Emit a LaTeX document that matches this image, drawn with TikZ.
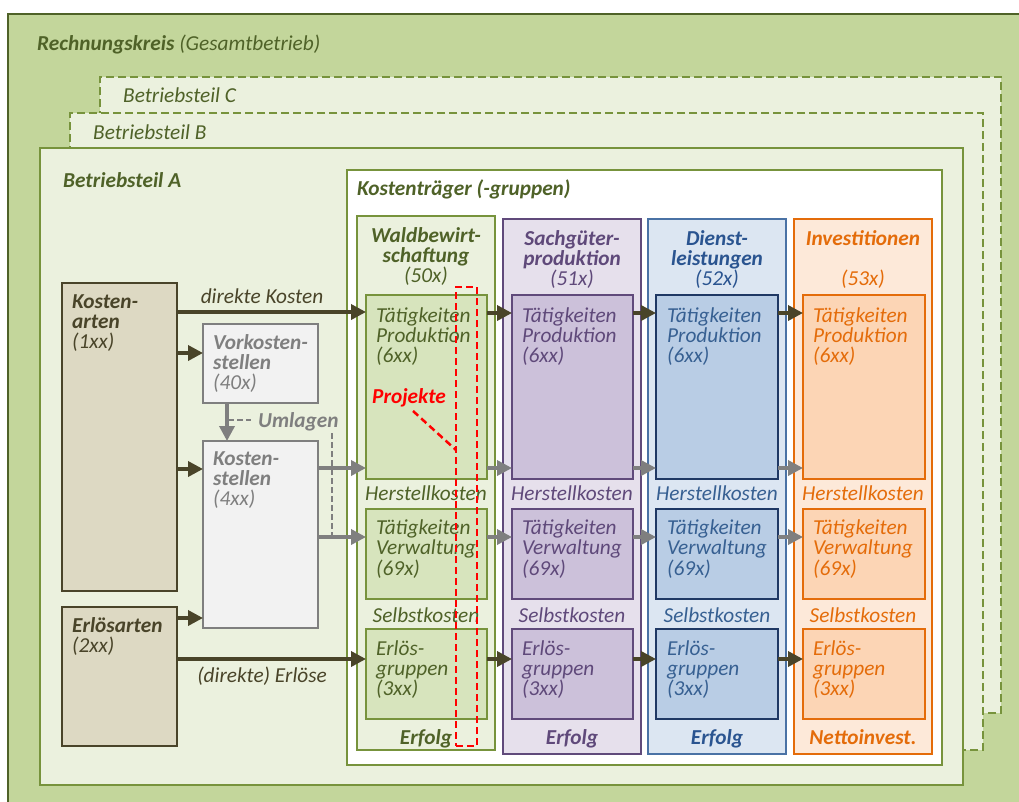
\documentclass[tikz,border=0pt]{standalone}
\usepackage{fontspec}
\setmainfont{Carlito}
\usetikzlibrary{arrows.meta,fit}
\definecolor{cOuter}{HTML}{C3D69B}
\definecolor{cDarkG}{HTML}{4F6228}
\definecolor{cLight}{HTML}{EBF1DE}
\definecolor{cGreen}{HTML}{77933C}
\definecolor{cBrown}{HTML}{494429}
\definecolor{cBrownF}{HTML}{DDD9C3}
\definecolor{cGray}{HTML}{7F7F7F}
\definecolor{cGrayF}{HTML}{F2F2F2}
\definecolor{colfill1}{HTML}{EBF1DE}
\definecolor{coldraw1}{HTML}{77933C}
\definecolor{colin1}{HTML}{D7E4BD}
\definecolor{colindraw1}{HTML}{77933C}
\definecolor{coltext1}{HTML}{4F6228}
\definecolor{colhead1}{HTML}{4F6228}
\definecolor{colfill2}{HTML}{E6E0EC}
\definecolor{coldraw2}{HTML}{604A7B}
\definecolor{colin2}{HTML}{CCC1DA}
\definecolor{colindraw2}{HTML}{604A7B}
\definecolor{coltext2}{HTML}{5F497A}
\definecolor{colhead2}{HTML}{5F497A}
\definecolor{colfill3}{HTML}{DCE6F2}
\definecolor{coldraw3}{HTML}{4A72A5}
\definecolor{colin3}{HTML}{B9CDE5}
\definecolor{colindraw3}{HTML}{1F3864}
\definecolor{coltext3}{HTML}{376092}
\definecolor{colhead3}{HTML}{2A5490}
\definecolor{colfill4}{HTML}{FDE9D9}
\definecolor{coldraw4}{HTML}{E46C0A}
\definecolor{colin4}{HTML}{FCD5B5}
\definecolor{colindraw4}{HTML}{E46C0A}
\definecolor{coltext4}{HTML}{E46C0A}
\definecolor{colhead4}{HTML}{E46C0A}
\begin{document}
\begin{tikzpicture}[x=1pt,y=-1pt,
  every node/.style={font=\fontsize{21.3}{20.3}\selectfont\itshape},
  bx/.style={draw, inner sep=0pt, outer sep=0pt},
  lbl/.style={anchor=base west, inner sep=0pt, align=left},
  clbl/.style={anchor=base, inner sep=0pt, align=center},
  dashbox/.style={draw=cGreen, line width=2pt, dash pattern=on 8pt off 4pt},
  darr/.style={draw=cBrown, line width=3.5pt, -{Triangle[length=15pt,width=15pt]}},
  garr/.style={draw=cGray, line width=3.5pt, -{Triangle[length=15pt,width=15pt]}},
  gdash/.style={draw=cGray, line width=2pt, dash pattern=on 6pt off 3pt},
  rdash/.style={draw=red, line width=2.5pt, dash pattern=on 7pt off 4pt}]
\fill[white] (0,0) rectangle (1019,801);
\useasboundingbox (0,0) rectangle (1019,801);
% frames
\node[bx, fill=cOuter, draw=cDarkG, line width=2pt, fit={(8,14) (1035,820)}] (rk) {};
\node[bx, fill=cLight, dashbox, fit={(100,77) (1001,713)}] (btc) {};
\node[bx, fill=cLight, dashbox, fit={(70,113) (983,750)}] (btb) {};
\node[bx, fill=cLight, draw=cGreen, line width=2.5pt, fit={(40,148) (963,785)}] (bta) {};
\node[bx, fill=white, draw=cGreen, line width=2pt, fit={(347,170) (942,765)}] (kt) {};
\node[lbl, text=cDarkG] (rkt) at (37,50) {\textbf{Rechnungskreis} (Gesamtbetrieb)};
\node[lbl, text=cDarkG] (btct) at (123,102) {Betriebsteil C};
\node[lbl, text=cDarkG] (btbt) at (93,139) {Betriebsteil B};
\node[lbl, text=cDarkG] (btat) at (63,187) {\textbf{Betriebsteil A}};
\node[lbl, text=cDarkG] (ktt) at (357,195) {\textbf{Kostenträger (-gruppen)}};
% columns (multi-line nodes: base = last line)
\foreach \i/\l/\r/\t/\b/\il/\ir/\tx/\cx/\bot in {
  1/357/495/216/750/366/487/376/426/Erfolg,
  2/503/641/219/754/512/633/522/572/Erfolg,
  3/648/786/219/754/656/778/667/717/Erfolg,
  4/794/932/219/754/803/925/813/863/Nettoinvest.}{
  \node[bx, fill=colfill\i, draw=coldraw\i, line width=2pt, fit={(\l,\t) (\r,\b)}] (col\i) {};
  \node[bx, fill=colin\i, draw=colindraw\i, line width=2.5pt, fit={(\il,295) (\ir,479)}] (tp\i) {};
  \node[bx, fill=colin\i, draw=colindraw\i, line width=2.5pt, fit={(\il,509) (\ir,599)}] (tv\i) {};
  \node[bx, fill=colin\i, draw=colindraw\i, line width=2.5pt, fit={(\il,629) (\ir,719)}] (eg\i) {};
  \node[lbl, text=coltext\i] (tpt\i) at (\tx,362.6) {Tätigkeiten\\Produktion\\(6xx)};
  \node[lbl, text=coltext\i] (tvt\i) at (\tx,575) {Tätigkeiten\\Verwaltung\\(69x)};
  \node[lbl, text=coltext\i] (egt\i) at (\tx,695.6) {Erlös-\\gruppen\\(3xx)};
  \node[clbl, text=coltext\i] (hk\i) at (\cx,500) {Herstellkosten};
  \node[clbl, text=coltext\i] (sk\i) at (\cx,622) {Selbstkosten};
  \node[clbl, text=colhead\i] (erf\i) at (\cx,744) {\textbf{\bot}};
}
\node[clbl, text=colhead1] (h1) at (426,282.6) {\textbf{Waldbewirt-}\\\textbf{schaftung}\\(50x)};
\node[clbl, text=colhead2] (h2) at (572,285.6) {\textbf{Sachgüter-}\\\textbf{produktion}\\(51x)};
\node[clbl, text=colhead3] (h3) at (717,285.6) {\textbf{Dienst-}\\\textbf{leistungen}\\(52x)};
\node[clbl, text=colhead4] (h4) at (863,285.6) {\textbf{Investitionen}\\ \\(53x)};
% left boxes
\node[bx, fill=cBrownF, draw=cBrown, line width=2.5pt, fit={(62,283) (177,591)}] (ka) {};
\node[bx, fill=cBrownF, draw=cBrown, line width=2.5pt, fit={(62,607) (177,746)}] (ea) {};
\node[bx, fill=cGrayF, draw=cGray, line width=2.5pt, fit={(203,324) (318,403)}] (vk) {};
\node[bx, fill=cGrayF, draw=cGray, line width=2.5pt, fit={(203,441) (318,628)}] (ks) {};
\node[lbl, text=cBrown] (kat) at (72,348.6) {\textbf{Kosten-}\\\textbf{arten}\\(1xx)};
\node[lbl, text=cBrown] (eat) at (72,652.3) {\textbf{Erlösarten}\\(2xx)};
\node[lbl, text=cGray] (vkt) at (213,389.6) {\textbf{Vorkosten-}\\\textbf{stellen}\\(40x)};
\node[lbl, text=cGray] (kst) at (213,505.6) {\textbf{Kosten-}\\\textbf{stellen}\\(4xx)};
% arrows left
\draw[darr] (ka.east |- 0,312) -- (tp1.west |- 0,312);
\node[clbl, text=cBrown] (dk) at (262,303) {direkte Kosten};
\draw[darr] (ka.east |- 0,353) -- (vk.west |- 0,353);
\draw[darr] (ka.east |- 0,469) -- (ks.west |- 0,469);
\draw[darr] (ea.east |- 0,618) -- (ks.west |- 0,618);
\draw[darr] (ea.east |- 0,659) -- (eg1.west |- 0,659);
\node[clbl, text=cBrown] (de) at (262,682) {(direkte) Erlöse};
\draw[garr] (vk.south -| 227,0) -- (ks.north -| 227,0);
\draw[garr] (ks.east |- 0,468) -- (tp1.west |- 0,468);
\draw[garr] (ks.east |- 0,537) -- (tv1.west |- 0,537);
\coordinate (u1) at (228,420);
\coordinate (u2) at (251,420);
\coordinate (u3) at (332,433);
\coordinate (u4) at (332,537);
\draw[gdash] (u1) -- (u2);
\draw[gdash] (u3) -- (u4);
\node[lbl, text=cGray] (uml) at (258,427) {\textbf{Umlagen}};
% arrows between columns
\foreach \a/\b in {1/2,2/3,3/4}{
  \draw[darr] (tp\a.east |- 0,313) -- (tp\b.west |- 0,313);
  \draw[garr] (tp\a.east |- 0,468) -- (tp\b.west |- 0,468);
  \draw[garr] (tv\a.east |- 0,537) -- (tv\b.west |- 0,537);
  \draw[darr] (eg\a.east |- 0,659) -- (eg\b.west |- 0,659);
}
% Projekte
\node[bx, rdash, fit={(456,287) (477,746)}] (proj) {};
\node[lbl, text=red] (projt) at (372,403) {\textbf{Projekte}};
\coordinate (p1) at (413,411);
\draw[rdash] (p1) -- (proj.west |- 0,450);
\end{tikzpicture}
\end{document}
